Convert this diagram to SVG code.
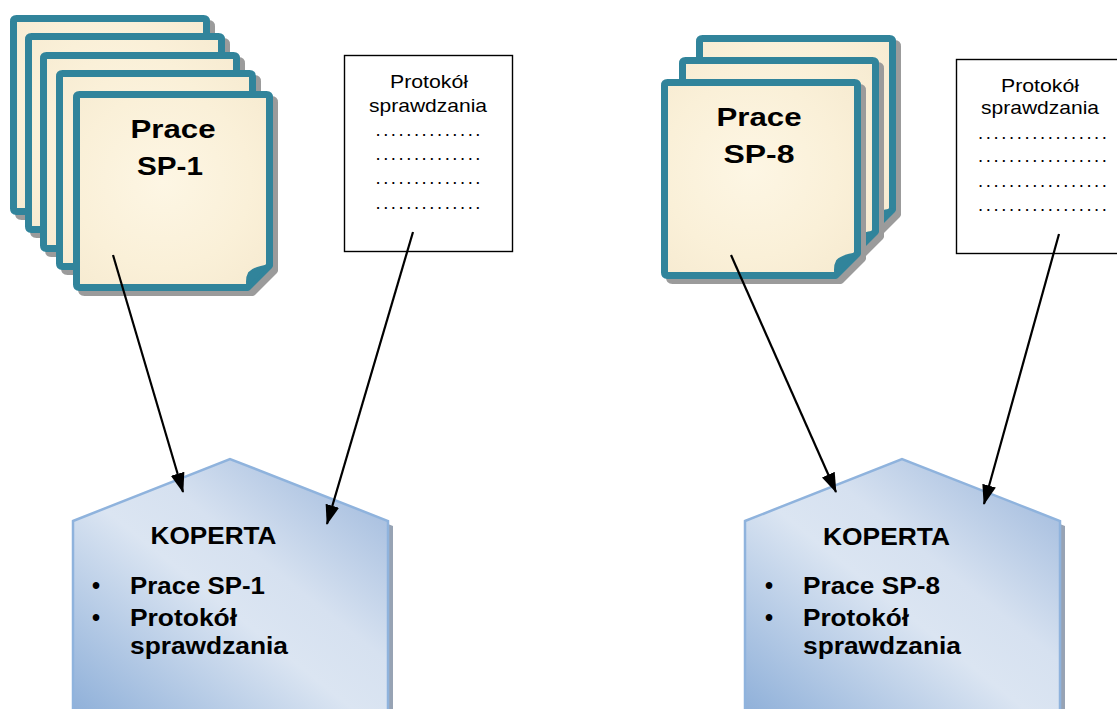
<svg xmlns="http://www.w3.org/2000/svg" xmlns:xlink="http://www.w3.org/1999/xlink" width="1117" height="709" viewBox="0 0 1117 709">
<style>
.t{font-family:"Liberation Sans",Arial,sans-serif;fill:#000}
.b{font-weight:bold}
.sheetTitle{font-size:26px;font-weight:bold}
.proto{font-size:18.5px}
.env{font-size:23px;font-weight:bold}
.box{fill:#fff;stroke:#000;stroke-width:1.4}
.conn{stroke:#000;stroke-width:2.2;fill:none;marker-end:url(#arr)}
.envShape{fill:url(#envGrad);stroke:#8fb3dd;stroke-width:2.5}
.envShadow{fill:#97a3b4}
</style>
<defs>
<radialGradient id="paper" cx="0.45" cy="0.45" r="0.75">
<stop offset="0" stop-color="#fdf6e4"/>
<stop offset="0.6" stop-color="#faf0d8"/>
<stop offset="1" stop-color="#f6ead0"/>
</radialGradient>
<linearGradient id="envGrad" x1="0" y1="1" x2="1" y2="0">
<stop offset="0" stop-color="#8fb0d9"/>
<stop offset="0.45" stop-color="#dbe5f2"/>
<stop offset="0.6" stop-color="#d6e1f0"/>
<stop offset="1" stop-color="#98b4da"/>
</linearGradient>
<marker id="arr" markerUnits="userSpaceOnUse" markerWidth="20" markerHeight="14" refX="19" refY="7" orient="auto">
<path d="M0,0 L20,7 L0,14 Z" fill="#000"/>
</marker>
<g id="sheet">
<path d="M6.5,3.5 H193.5 Q196.5,3.5 196.5,6.5 V174.5 L174.5,196.5 H6.5 Q3.5,196.5 3.5,193.5 V6.5 Q3.5,3.5 6.5,3.5 Z" transform="translate(5,5)" fill="#9b9b9b" stroke="#9b9b9b" stroke-width="7" stroke-linejoin="round"/>
<path d="M6.5,3.5 H193.5 Q196.5,3.5 196.5,6.5 V174.5 L174.5,196.5 H6.5 Q3.5,196.5 3.5,193.5 V6.5 Q3.5,3.5 6.5,3.5 Z" fill="url(#paper)" stroke="#31849b" stroke-width="7" stroke-linejoin="round"/>
<path d="M196.5,174.5 L174.5,196.5 Q173,187 176,182 Q181,176 196.5,174.5 Z" fill="#31849b" stroke="#31849b" stroke-width="2" stroke-linejoin="round"/>
</g>
</defs>
<rect width="1117" height="709" fill="#fff"/>

<g id="stack-sp1">
<use xlink:href="#sheet" x="10" y="15"/>
<use xlink:href="#sheet" x="25" y="33"/>
<use xlink:href="#sheet" x="40" y="52"/>
<use xlink:href="#sheet" x="56" y="70"/>
<use xlink:href="#sheet" x="73" y="91"/>
<text class="t sheetTitle" x="173" y="138" text-anchor="middle" textLength="85" lengthAdjust="spacingAndGlyphs">Prace</text>
<text class="t sheetTitle" x="170" y="175" text-anchor="middle" textLength="66" lengthAdjust="spacingAndGlyphs">SP-1</text>
</g>

<g id="protokol-1">
<rect class="box" x="344.5" y="55.5" width="168" height="196"/>
<text class="t proto" x="429" y="88" text-anchor="middle" textLength="78" lengthAdjust="spacingAndGlyphs">Protokół</text>
<text class="t proto" x="428" y="111.5" text-anchor="middle" textLength="118" lengthAdjust="spacingAndGlyphs">sprawdzania</text>
<text class="t proto" x="375.5" y="136" textLength="105" lengthAdjust="spacing">..............</text>
<text class="t proto" x="375.5" y="160" textLength="105" lengthAdjust="spacing">..............</text>
<text class="t proto" x="375.5" y="184" textLength="105" lengthAdjust="spacing">..............</text>
<text class="t proto" x="375.5" y="208.5" textLength="105" lengthAdjust="spacing">..............</text>
</g>

<g id="stack-sp8">
<use xlink:href="#sheet" x="696" y="35"/>
<use xlink:href="#sheet" x="679" y="57"/>
<use xlink:href="#sheet" x="661" y="79"/>
<text class="t sheetTitle" x="759" y="126" text-anchor="middle" textLength="85" lengthAdjust="spacingAndGlyphs">Prace</text>
<text class="t sheetTitle" x="759" y="163" text-anchor="middle" textLength="71" lengthAdjust="spacingAndGlyphs">SP-8</text>
</g>

<g id="protokol-8">
<rect class="box" x="956.5" y="59.5" width="175" height="194"/>
<text class="t proto" x="1040" y="92" text-anchor="middle" textLength="78" lengthAdjust="spacingAndGlyphs">Protokół</text>
<text class="t proto" x="1040" y="114" text-anchor="middle" textLength="118" lengthAdjust="spacingAndGlyphs">sprawdzania</text>
<text class="t proto" x="978" y="139" textLength="129" lengthAdjust="spacing">.................</text>
<text class="t proto" x="978" y="162" textLength="129" lengthAdjust="spacing">.................</text>
<text class="t proto" x="978" y="187" textLength="129" lengthAdjust="spacing">.................</text>
<text class="t proto" x="978" y="211" textLength="129" lengthAdjust="spacing">.................</text>
</g>

<g id="koperta-1">
<path class="envShadow" d="M78,526 L235,464 L393,526 L393,715 L78,715 Z"/>
<path class="envShape" d="M73,521 L230,459 L388,521 L388,712 L73,712 Z"/>
<text class="t env" x="150.5" y="544" textLength="126" lengthAdjust="spacingAndGlyphs">KOPERTA</text>
<text class="t env" x="92" y="594">•</text>
<text class="t env" x="92" y="626">•</text>
<text class="t env" x="130" y="594" textLength="135" lengthAdjust="spacingAndGlyphs">Prace SP-1</text>
<text class="t env" x="130" y="626" textLength="107" lengthAdjust="spacingAndGlyphs">Protokół</text>
<text class="t env" x="130" y="654" textLength="158" lengthAdjust="spacingAndGlyphs">sprawdzania</text>
</g>

<g id="koperta-8">
<path class="envShadow" d="M750,526 L907,464 L1065,526 L1065,715 L750,715 Z"/>
<path class="envShape" d="M745,521 L902,459 L1060,521 L1060,712 L745,712 Z"/>
<text class="t env" x="823" y="545" textLength="127" lengthAdjust="spacingAndGlyphs">KOPERTA</text>
<text class="t env" x="765" y="594">•</text>
<text class="t env" x="765" y="626">•</text>
<text class="t env" x="803" y="594" textLength="137" lengthAdjust="spacingAndGlyphs">Prace SP-8</text>
<text class="t env" x="803" y="626" textLength="106" lengthAdjust="spacingAndGlyphs">Protokół</text>
<text class="t env" x="803" y="654" textLength="158" lengthAdjust="spacingAndGlyphs">sprawdzania</text>
</g>

<g id="connectors">
<line class="conn" x1="113" y1="255" x2="183" y2="492"/>
<line class="conn" x1="413" y1="232" x2="327" y2="524"/>
<line class="conn" x1="731" y1="255" x2="836" y2="492"/>
<line class="conn" x1="1059" y1="234" x2="984" y2="504"/>
</g>
</svg>
